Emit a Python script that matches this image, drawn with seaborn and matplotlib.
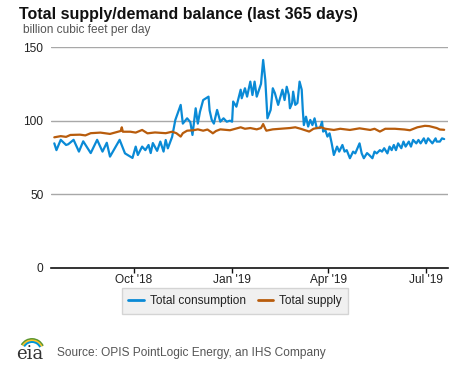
import pandas as pd
import numpy as np
import matplotlib
matplotlib.use("Agg")
import matplotlib.pyplot as plt
from matplotlib.patches import Arc
import seaborn as sns

# ---- data (turning points of each daily series) ----
consumption_dates = [
    "2018-07-19", "2018-07-21", "2018-07-25", "2018-07-30", "2018-08-01", "2018-08-06",
    "2018-08-11", "2018-08-15", "2018-08-22", "2018-08-28", "2018-09-02", "2018-09-06",
    "2018-09-09", "2018-09-18", "2018-09-23", "2018-09-30", "2018-10-03", "2018-10-05",
    "2018-10-09", "2018-10-12", "2018-10-15", "2018-10-17", "2018-10-19", "2018-10-23",
    "2018-10-26", "2018-10-29", "2018-10-31", "2018-11-02", "2018-11-06", "2018-11-09",
    "2018-11-14", "2018-11-16", "2018-11-20", "2018-11-23", "2018-11-25", "2018-11-28",
    "2018-11-30", "2018-12-02", "2018-12-05", "2018-12-10", "2018-12-11", "2018-12-13",
    "2018-12-15", "2018-12-18", "2018-12-21", "2018-12-24", "2018-12-27", "2018-12-30",
    "2019-01-01", "2019-01-02", "2019-01-05", "2019-01-09", "2019-01-10", "2019-01-13",
    "2019-01-15", "2019-01-18", "2019-01-20", "2019-01-22", "2019-01-24", "2019-01-27",
    "2019-01-28", "2019-01-30", "2019-02-01", "2019-02-03", "2019-02-06", "2019-02-08",
    "2019-02-10", "2019-02-13", "2019-02-17", "2019-02-19", "2019-02-21", "2019-02-23",
    "2019-02-24", "2019-02-26", "2019-02-27", "2019-03-01", "2019-03-03", "2019-03-05",
    "2019-03-07", "2019-03-08", "2019-03-09", "2019-03-11", "2019-03-13", "2019-03-15",
    "2019-03-17", "2019-03-19", "2019-03-21", "2019-03-24", "2019-03-26", "2019-03-27",
    "2019-03-29", "2019-03-31", "2019-04-02", "2019-04-04", "2019-04-06", "2019-04-09",
    "2019-04-11", "2019-04-14", "2019-04-16", "2019-04-18", "2019-04-21", "2019-04-24",
    "2019-04-26", "2019-04-28", "2019-04-30", "2019-05-02", "2019-05-04", "2019-05-07",
    "2019-05-09", "2019-05-12", "2019-05-14", "2019-05-16", "2019-05-19", "2019-05-21",
    "2019-05-23", "2019-05-26", "2019-05-28", "2019-05-30", "2019-06-01", "2019-06-03",
    "2019-06-05", "2019-06-08", "2019-06-10", "2019-06-12", "2019-06-15", "2019-06-17",
    "2019-06-19", "2019-06-22", "2019-06-24", "2019-06-26", "2019-06-29", "2019-07-01",
    "2019-07-03", "2019-07-07", "2019-07-10", "2019-07-11", "2019-07-14", "2019-07-16",
    "2019-07-18",
]
consumption = [
    84.6, 80.0, 87.0, 83.5, 84.0, 87.0,
    79.0, 86.0, 78.0, 87.0, 79.0, 85.0,
    75.6, 87.0, 77.8, 74.7, 82.4, 76.7,
    82.4, 80.0, 83.5, 78.0, 84.8, 79.5,
    85.8, 79.0, 86.9, 81.2, 89.0, 100.5,
    110.7, 98.0, 101.6, 99.0, 90.3, 108.4,
    98.0, 106.0, 114.0, 116.3, 107.0, 100.5,
    98.0, 107.3, 99.3, 101.6, 99.3, 100.0,
    99.3, 113.0, 109.5, 121.0, 115.2, 122.0,
    116.3, 126.5, 117.4, 126.5, 116.3, 123.0,
    125.0, 141.2, 127.6, 101.6, 107.3, 122.0,
    118.6, 110.7, 121.0, 114.0, 123.0, 117.4,
    108.4, 111.8, 119.7, 110.7, 112.0, 126.5,
    121.0, 107.3, 97.0, 102.7, 96.0, 100.5,
    97.0, 101.6, 95.0, 95.0, 99.3, 92.6,
    93.7, 89.2, 91.4, 84.6, 76.7, 82.4,
    79.0, 83.5, 79.0, 80.0, 74.5, 79.0,
    77.8, 81.2, 84.6, 77.8, 74.5, 78.0,
    76.7, 74.5, 79.0, 77.8, 80.0, 79.0,
    81.3, 77.8, 82.4, 80.0, 83.5, 80.0,
    84.6, 81.3, 85.8, 82.4, 85.8, 82.4,
    86.9, 84.6, 86.9, 84.6, 88.0, 84.6,
    88.0, 84.6, 88.0, 85.8, 85.8, 88.0,
    87.5,
]

supply_dates = [
    "2018-07-19", "2018-07-25", "2018-07-30", "2018-08-03", "2018-08-12", "2018-08-17",
    "2018-08-22", "2018-08-31", "2018-09-09", "2018-09-14", "2018-09-19", "2018-09-20",
    "2018-09-21", "2018-09-28", "2018-10-03", "2018-10-09", "2018-10-14", "2018-10-21",
    "2018-10-31", "2018-11-06", "2018-11-10", "2018-11-14", "2018-11-16", "2018-11-20",
    "2018-11-26", "2018-11-30", "2018-12-05", "2018-12-09", "2018-12-13", "2018-12-14",
    "2018-12-17", "2018-12-21", "2018-12-30", "2019-01-04", "2019-01-09", "2019-01-13",
    "2019-01-18", "2019-01-24", "2019-01-28", "2019-01-30", "2019-02-01", "2019-02-02",
    "2019-02-08", "2019-02-15", "2019-02-24", "2019-03-01", "2019-03-06", "2019-03-14",
    "2019-03-18", "2019-03-25", "2019-03-29", "2019-04-06", "2019-04-12", "2019-04-21",
    "2019-04-30", "2019-05-10", "2019-05-14", "2019-05-19", "2019-05-24", "2019-06-02",
    "2019-06-11", "2019-06-16", "2019-06-23", "2019-06-30", "2019-07-04", "2019-07-11",
    "2019-07-14", "2019-07-18",
]
supply = [
    88.7, 89.5, 89.0, 90.3, 90.5, 90.0,
    91.5, 91.9, 91.0, 92.0, 93.0, 95.5,
    92.5, 92.5, 91.9, 93.7, 91.4, 92.0,
    91.5, 92.5, 91.5, 89.2, 91.5, 93.2,
    93.5, 94.1, 93.2, 94.0, 92.0, 91.4,
    93.0, 94.1, 93.5, 94.5, 95.5, 94.5,
    95.0, 94.1, 95.0, 97.7, 94.5, 93.2,
    94.1, 94.5, 95.0, 95.5, 94.5, 92.6,
    94.5, 95.5, 94.5, 93.7, 94.5, 93.7,
    94.8, 93.7, 94.5, 92.6, 94.5, 94.5,
    94.0, 93.5, 95.5, 96.5, 96.3, 95.0,
    94.0, 93.8,
]

series_names = ["Total consumption", "Total supply"]
series_colors = ["#0a8ad6", "#b85c0c"]
tick_dates = ["2018-10-01", "2019-01-01", "2019-04-01", "2019-07-01"]
tick_labels = ["Oct '18", "Jan '19", "Apr '19", "Jul '19"]
y_ticks = [0, 50, 100, 150]

df = pd.concat([
    pd.DataFrame({"date": pd.to_datetime(consumption_dates), "value": consumption,
                  "series": series_names[0]}),
    pd.DataFrame({"date": pd.to_datetime(supply_dates), "value": supply,
                  "series": series_names[1]}),
])

sns.set_theme(style="white")
plt.rcParams["font.family"] = ["Liberation Sans", "DejaVu Sans"]

W, H = 477, 367
fig = plt.figure(figsize=(W / 100, H / 100), dpi=100)
ax = fig.add_axes([51 / W, (H - 268) / H, 396.6 / W, 221 / H])

sns.lineplot(data=df, x="date", y="value", hue="series", hue_order=series_names,
             palette=series_colors, linewidth=1.6, ax=ax, legend=False)

ax.set_ylim(0, 150)
ax.set_xlim(pd.Timestamp("2018-07-15 22:00"), pd.Timestamp("2019-07-21 05:00"))
ax.set_yticks(y_ticks)
ax.set_yticklabels([str(v) for v in y_ticks], fontsize=8.6, color="#222222")
ax.set_xticks(pd.to_datetime(tick_dates))
ax.set_xticklabels(tick_labels, fontsize=8.6, color="#222222")
ax.set_xlabel("")
ax.set_ylabel("")

for v in y_ticks[1:]:
    ax.axhline(v, color="#a8a8a8", linewidth=1.0, zorder=0)
for s in ["top", "right", "left"]:
    ax.spines[s].set_visible(False)
ax.spines["bottom"].set_color("#111111")
ax.spines["bottom"].set_linewidth(1.2)
ax.tick_params(axis="x", bottom=True, length=3.5, width=1, color="#111111", pad=0.5)
ax.tick_params(axis="y", left=False, length=0, pad=5.5)
ax.grid(False)

# title + units
fig.text(19 / W, 1 - 18.5 / H, "Total supply/demand balance (last 365 days)",
         fontsize=11.5, fontweight="bold", color="#111111")
fig.text(23 / W, 1 - 33 / H, "billion cubic feet per day",
         fontsize=8.6, color="#555555")

# legend
handles = [plt.Line2D([], [], color=c, linewidth=2) for c in series_colors]
leg = fig.legend(handles, series_names, loc="center", bbox_to_anchor=(235 / W, 1 - 301 / H),
                 ncol=2, frameon=True, fontsize=8.6, handlelength=1.3, handletextpad=0.5,
                 columnspacing=1.0, fancybox=False, borderpad=0.55)
leg.get_frame().set_facecolor("#ededed")
leg.get_frame().set_edgecolor("#cccccc")
leg.get_frame().set_linewidth(1.0)
for t in leg.get_texts():
    t.set_color("#222222")

# eia logo + source
lax = fig.add_axes([14 / W, (H - 362) / H, 32 / W, 27 / H])
lax.set_xlim(0, 32)
lax.set_ylim(0, 27)
lax.axis("off")
for r, col in zip([12, 10.5, 9], ["#5d9732", "#ffc425", "#0096d7"]):
    lax.add_patch(Arc((18, 11), 2 * r, 2 * r, theta1=25, theta2=150, color=col, linewidth=1.4))
lax.text(2, 3, "eia", fontsize=13, family="DejaVu Serif", color="#333333")
fig.text(57 / W, 1 - 356 / H, "Source: OPIS PointLogic Energy, an IHS Company",
         fontsize=8.6, color="#555555")

fig.savefig("out.png", dpi=100)
